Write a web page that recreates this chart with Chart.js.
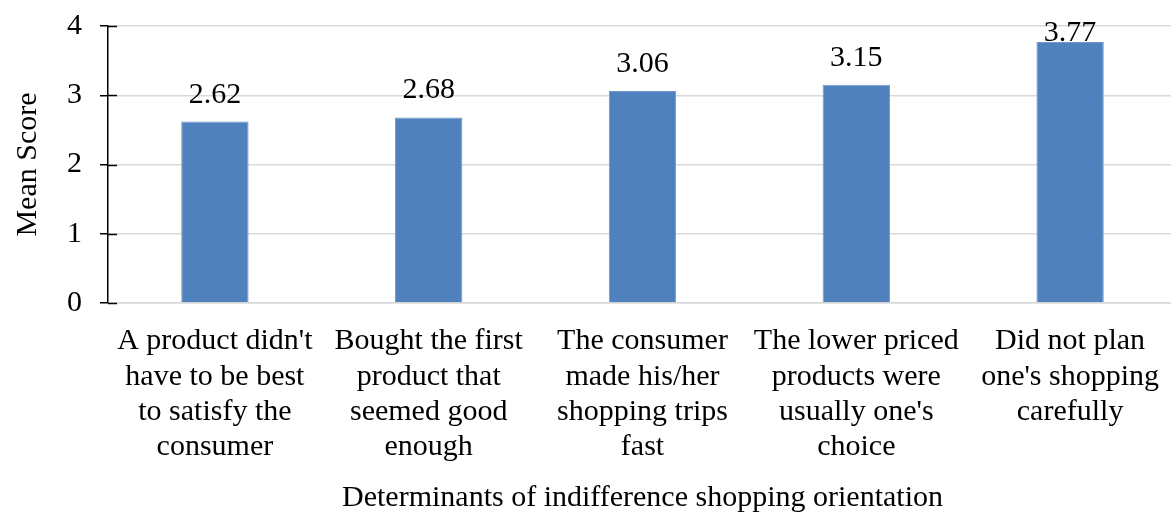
<!DOCTYPE html>
<html>
<head>
<meta charset="utf-8">
<script src="https://cdn.jsdelivr.net/npm/chart.js@4/dist/chart.umd.min.js"></script>
<style>
  html, body { margin: 0; padding: 0; background: #fff; overflow: hidden; }
  #wrap { width: 1178px; height: 513px; }
</style>
</head>
<body>
<div id="wrap"><canvas id="chart" width="1178" height="513"></canvas></div>
<script>
const CATEGORIES = [
  ["A product didn't", 'have to be best', 'to satisfy the', 'consumer'],
  ['Bought the first', 'product that', 'seemed good', 'enough'],
  ['The consumer', 'made his/her', 'shopping trips', 'fast'],
  ['The lower priced', 'products were', "usually one's", 'choice'],
  ['Did not plan', "one's shopping", 'carefully'],
]
const MEAN_SCORES = [2.62, 2.68, 3.06, 3.15, 3.77]
const Y_TICKS = [0, 1, 2, 3, 4]

const FONT = "'Liberation Serif', 'Times New Roman', serif"
const BAR_COLOR = '#4f81bd'
const GRID = '#d9d9d9'

// value labels above the bars, kept inside the plot like Excel does
const valueLabels = {
  id: 'valueLabels',
  afterDatasetsDraw(chart) {
    const ctx = chart.ctx
    const meta = chart.getDatasetMeta(0)
    ctx.save()
    ctx.font = '30px ' + FONT
    ctx.fillStyle = '#000'
    ctx.textAlign = 'center'
    ctx.textBaseline = 'alphabetic'
    meta.data.forEach((bar, i) => {
      const y = Math.max(bar.y - 19, chart.chartArea.top + 15)
      ctx.fillText(MEAN_SCORES[i].toFixed(2), bar.x, y)
    })
    ctx.restore()
  },
}

// cross-style tick marks on the value axis (inner half)
const crossTicks = {
  id: 'crossTicks',
  afterDraw(chart) {
    const y = chart.scales.y
    const ctx = chart.ctx
    ctx.save()
    ctx.strokeStyle = '#000'
    ctx.lineWidth = 1.5
    y.ticks.forEach(t => {
      const py = Math.round(y.getPixelForValue(t.value)) + 0.5
      ctx.beginPath()
      ctx.moveTo(y.right, py)
      ctx.lineTo(y.right + 9, py)
      ctx.stroke()
    })
    ctx.restore()
  },
}

new Chart(document.getElementById('chart'), {
  type: 'bar',
  data: {
    labels: CATEGORIES,
    datasets: [{
      data: MEAN_SCORES,
      backgroundColor: BAR_COLOR,
      borderColor: '#6d98cb',
      borderWidth: 1,
      barPercentage: 0.63,
      categoryPercentage: 0.5,
    }],
  },
  options: {
    responsive: false,
    animation: false,
    devicePixelRatio: 1,
    layout: { padding: { top: 26, right: 1, left: 0, bottom: 0 } },
    plugins: { legend: { display: false }, tooltip: { enabled: false } },
    scales: {
      x: {
        grid: { display: false },
        border: { color: GRID, width: 1.5 },
        ticks: {
          color: '#000',
          font: { family: FONT, size: 30, lineHeight: 1.17 },
          maxRotation: 0,
          autoSkip: false,
          padding: 13,
        },
        title: {
          display: true,
          text: 'Determinants of indifference shopping orientation',
          color: '#000',
          font: { family: FONT, size: 30, lineHeight: 1.0 },
          padding: { top: 10, bottom: 0 },
        },
        afterFit(scale) {
          scale.height = 210
          scale.paddingLeft = 0
          scale.paddingRight = 0
        },
      },
      y: {
        min: 0,
        max: 4,
        afterBuildTicks(scale) { scale.ticks = Y_TICKS.map(v => ({ value: v })) },
        grid: {
          color: GRID,
          lineWidth: 1.5,
          tickColor: '#000',
          tickLength: 8,
          tickWidth: 1.5,
        },
        border: { color: '#000', width: 1.5 },
        ticks: {
          color: '#000',
          font: { family: FONT, size: 30 },
          padding: 18,
        },
        title: {
          display: true,
          text: 'Mean Score',
          color: '#000',
          font: { family: FONT, size: 30 },
          padding: { top: 10, bottom: 0 },
        },
        afterFit(scale) {
          scale.width = 108
          scale.paddingTop = 0
          scale.paddingBottom = 0
        },
      },
    },
  },
  plugins: [valueLabels, crossTicks],
})
</script>
</body>
</html>
